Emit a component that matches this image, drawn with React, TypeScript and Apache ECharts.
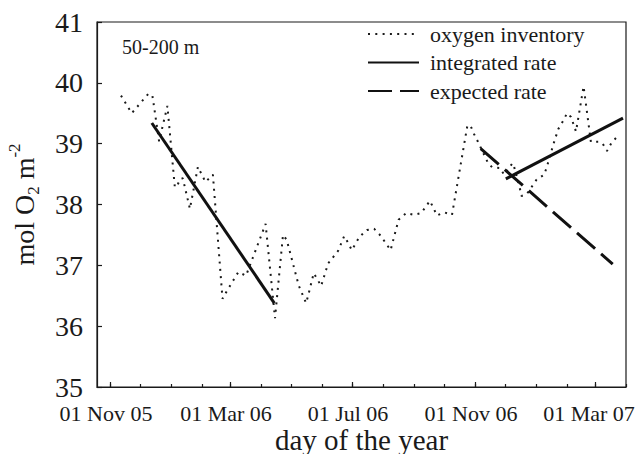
import React, { useEffect, useRef } from "react";
import * as echarts from "echarts";

// x values are days since 01 Nov 2005
const o2Days = [11.0, 21.7, 38.4, 42.4, 49.1, 57.4, 64.8, 66.8, 70.1, 72.8, 79.9, 87.9, 91.5, 95.5, 102.9, 112.5, 116.9, 128.3, 136.0, 155.6, 165.0, 173.0, 176.7, 188.7, 196.1, 198.1, 203.7, 207.4, 211.1, 218.1, 228.2, 234.2, 237.8, 241.8, 249.5, 256.8, 264.2, 270.5, 280.6, 288.6, 296.3, 303.9, 311.3, 319.9, 327.0, 334.4, 342.0, 357.4, 360.7, 364.0, 367.7, 378.4, 382.3, 390.0, 394.1, 402.5, 404.1, 409.8, 411.5, 416.8, 426.6, 434.2, 436.9, 443.6, 448.3, 453.0, 457.0, 461.0, 466.0, 473.6, 480.9, 488.3, 492.7, 497.0, 501.7, 507.0];
const o2Values = [39.79, 39.50, 39.82, 39.79, 39.04, 39.62, 38.29, 38.29, 38.42, 38.43, 37.93, 38.62, 38.50, 38.37, 38.49, 36.45, 36.58, 36.89, 36.83, 37.68, 36.13, 37.50, 37.42, 36.67, 36.38, 36.50, 36.87, 36.77, 36.66, 37.03, 37.24, 37.48, 37.38, 37.25, 37.47, 37.58, 37.60, 37.49, 37.25, 37.75, 37.86, 37.83, 37.86, 38.06, 37.82, 37.87, 37.83, 39.30, 39.29, 39.16, 39.04, 38.67, 38.61, 38.60, 38.49, 38.68, 38.62, 38.27, 38.14, 38.17, 38.41, 38.49, 38.62, 39.00, 39.24, 39.37, 39.50, 39.44, 39.20, 39.94, 39.03, 39.03, 39.00, 38.88, 39.02, 39.11];

const rate1Days = [41.8, 164.3];
const rate1Values = [39.34, 36.38];
const rate2Days = [395.8, 513.0];
const rate2Values = [38.42, 39.42];
const expectedDays = [370.7, 502.7];
const expectedValues = [38.92, 37.02];

const majorTickDays = [0, 120, 242, 365, 485];
const majorTickLabels = ["01 Nov 05", "01 Mar 06", "01 Jul 06", "01 Nov 06", "01 Mar 07"];
const monthTickDays = [0, 30, 61, 92, 120, 151, 181, 212, 242, 273, 304, 334, 365, 395, 426, 457, 485, 516];

const seriesNames = ["oxygen inventory", "integrated rate", "expected rate"];
const depthLabel = "50-200 m";

const FONT = "'Liberation Serif', 'Times New Roman', serif";
const INK = "#1a1a1a";

const zip = (xs: number[], ys: number[]) => xs.map((x, i) => [x, ys[i]]);

export default function App() {
  const ref = useRef<HTMLDivElement>(null);
  useEffect(() => {
    if (!ref.current) return;
    const chart = echarts.init(ref.current, undefined, { renderer: "svg" });
    const gridRect = { left: 97, right: 10, top: 22, bottom: 67, containLabel: false, outerBoundsMode: "none" };
    const tickText = { fontSize: 22, fontFamily: FONT, color: INK, lineHeight: 20 };
    chart.setOption({
      animation: false,
      backgroundColor: "#fff",
      grid: [
        { ...gridRect, show: true, borderColor: INK, borderWidth: 1.2, backgroundColor: "transparent" },
        { ...gridRect, show: false },
      ],
      xAxis: [
        {
          type: "value",
          gridIndex: 0,
          min: -13,
          max: 516,
          position: "bottom",
          axisLine: { show: true, onZero: false, lineStyle: { color: INK, width: 1.2 } },
          axisTick: { show: true, customValues: majorTickDays, inside: true, length: 5, lineStyle: { color: INK, width: 1.2 } },
          axisLabel: {
            customValues: majorTickDays,
            formatter: (v: number) => {
              const i = majorTickDays.indexOf(Math.round(v));
              if (i < 0) return "";
              return i === majorTickLabels.length - 1 ? `{r|${majorTickLabels[i]}}` : `{l|${majorTickLabels[i]}}`;
            },
            ...tickText,
            margin: 16,
            rich: {
              l: { ...tickText, padding: [0, 8, 0, 0] },
              r: { ...tickText, padding: [0, 12, 0, 0] },
            },
          },
          splitLine: { show: false },
          name: "day of the year",
          nameLocation: "middle",
          nameMoveOverlap: false,
          nameGap: 39,
          nameTextStyle: { fontSize: 29, fontFamily: FONT, color: INK, lineHeight: 27 },
        },
        {
          type: "value",
          gridIndex: 1,
          min: -13,
          max: 516,
          position: "bottom",
          axisLine: { show: false, onZero: false },
          axisTick: { show: true, customValues: monthTickDays, inside: true, length: 3, lineStyle: { color: INK, width: 1.2 } },
          axisLabel: { show: false },
          splitLine: { show: false },
        },
      ],
      yAxis: [
        {
          type: "value",
          gridIndex: 0,
          min: 35,
          max: 41,
          interval: 1,
          axisLine: { show: true, onZero: false, lineStyle: { color: INK, width: 1.2 } },
          axisTick: { show: true, inside: true, length: 5, lineStyle: { color: INK, width: 1.2 } },
          axisLabel: { fontSize: 28, fontFamily: FONT, color: INK, margin: 14 },
          splitLine: { show: false },
          name: "{a|mol O}{sub|2}{a| m}{sup|-2}",
          nameLocation: "middle",
          nameMoveOverlap: false,
          nameGap: 55,
          nameTextStyle: {
            fontFamily: FONT,
            color: INK,
            rich: {
              a: { fontSize: 28, fontFamily: FONT, color: INK, lineHeight: 36 },
              sub: { fontSize: 17, fontFamily: FONT, color: INK, lineHeight: 17, verticalAlign: "bottom" },
              sup: { fontSize: 17, fontFamily: FONT, color: INK, lineHeight: 17, verticalAlign: "top" },
            },
          },
        },
        { type: "value", gridIndex: 1, min: 35, max: 41, show: false },
      ],
      legend: {
        data: seriesNames,
        orient: "vertical",
        left: 367,
        top: 23,
        padding: 0,
        itemWidth: 51,
        itemHeight: 14,
        itemGap: 6.5,
        itemStyle: { opacity: 0 },
        textStyle: { fontSize: 22, fontFamily: FONT, color: INK, lineHeight: 22, padding: [0, 0, 0, 6] },
      },
      graphic: [
        {
          type: "text",
          left: 122,
          top: 37,
          style: { text: depthLabel, fontSize: 20, fontFamily: FONT, fill: INK },
        },
      ],
      series: [
        {
          name: seriesNames[0],
          type: "line",
          xAxisIndex: 0,
          yAxisIndex: 0,
          data: zip(o2Days, o2Values),
          symbol: "none",
          color: INK,
          lineStyle: { color: INK, width: 2, type: [2, 5.3] },
        },
        {
          name: seriesNames[1],
          type: "line",
          xAxisIndex: 0,
          yAxisIndex: 0,
          data: zip(rate1Days, rate1Values),
          symbol: "none",
          color: "#111",
          lineStyle: { color: "#111", width: 3, type: "solid" },
        },
        {
          name: seriesNames[1],
          type: "line",
          xAxisIndex: 0,
          yAxisIndex: 0,
          data: zip(rate2Days, rate2Values),
          symbol: "none",
          color: "#111",
          lineStyle: { color: "#111", width: 3, type: "solid" },
        },
        {
          name: seriesNames[2],
          type: "line",
          xAxisIndex: 0,
          yAxisIndex: 0,
          data: zip(expectedDays, expectedValues),
          symbol: "none",
          color: "#111",
          lineStyle: { color: "#111", width: 3, type: [24, 8] },
        },
      ],
    });
    return () => chart.dispose();
  }, []);
  return (
    <div
      ref={ref}
      style={{ position: "fixed", left: 0, top: 0, width: 636, height: 454, background: "#fff" }}
    />
  );
}
